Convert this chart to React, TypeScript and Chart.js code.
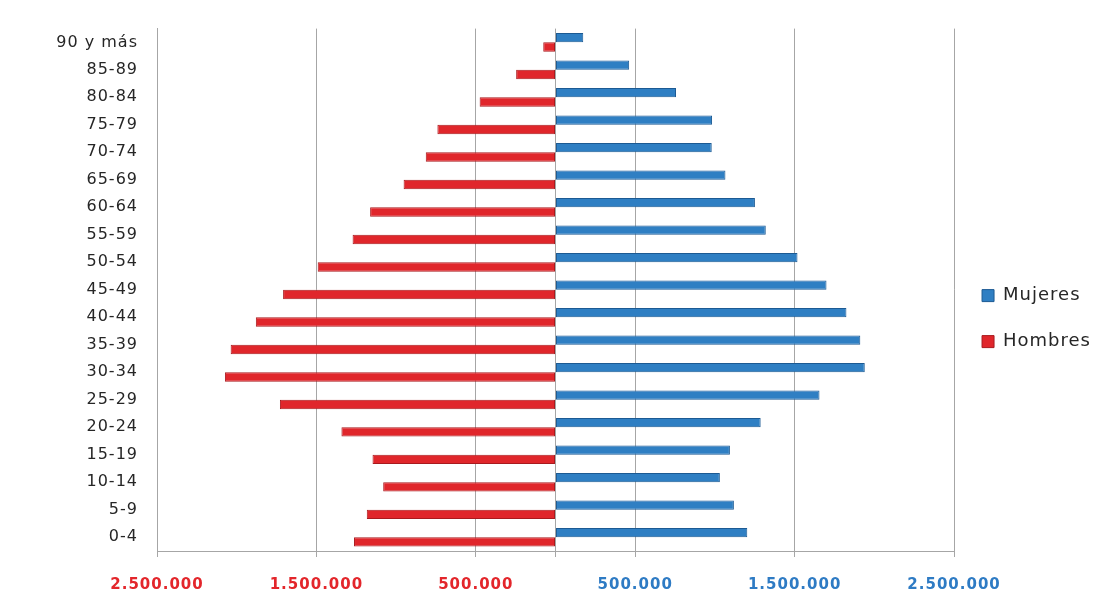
import React, { useEffect, useRef } from "react";
import { Chart, registerables } from "chart.js";

Chart.register(...registerables);

const CATEGORIES = [
  "90 y más", "85-89", "80-84", "75-79", "70-74", "65-69", "60-64",
  "55-59", "50-54", "45-49", "40-44", "35-39", "30-34", "25-29",
  "20-24", "15-19", "10-14", "5-9", "0-4",
];

const MUJERES = [
  174000, 462000, 756000, 982000, 980000, 1066000, 1251000,
  1319000, 1518000, 1700000, 1825000, 1912000, 1940000, 1656000,
  1287000, 1094000, 1031000, 1119000, 1203000,
];

const HOMBRES = [
  -77000, -247000, -476000, -741000, -814000, -953000, -1163000,
  -1273000, -1492000, -1709000, -1880000, -2038000, -2074000, -1729000,
  -1343000, -1148000, -1081000, -1184000, -1264000,
];

const X_TICKS = [-2500000, -1500000, -500000, 0, 500000, 1500000, 2500000];

const BLUE = "#2f7fc3";
const BLUE_DARK = "#1c5a93";
const RED = "#e0262b";
const RED_DARK = "#a81a1e";

function fmt(v: number): string {
  const s = Math.abs(Math.round(v)).toString();
  return s.replace(/\B(?=(\d{3})+(?!\d))/g, ".");
}

const spacingPlugin = {
  id: "letterSpacing",
  beforeUpdate(chart: any) {
    (chart.ctx as any).letterSpacing = "1px";
  },
  beforeDraw(chart: any) {
    (chart.ctx as any).letterSpacing = "1px";
  },
};

export default function App() {
  const ref = useRef<HTMLCanvasElement | null>(null);

  useEffect(() => {
    document.body.style.margin = "0";
    const canvas = ref.current;
    if (!canvas) return;
    Chart.defaults.font.family = "'DejaVu Sans', sans-serif";
    const chart = new Chart(canvas, {
      type: "bar",
      data: {
        labels: CATEGORIES,
        datasets: [
          {
            label: "Mujeres",
            data: MUJERES,
            backgroundColor: BLUE,
            borderColor: BLUE_DARK,
            borderWidth: 1,
            borderSkipped: false,
            categoryPercentage: 0.68,
            barPercentage: 1.0,
          },
          {
            label: "Hombres",
            data: HOMBRES,
            backgroundColor: RED,
            borderColor: RED_DARK,
            borderWidth: 1,
            borderSkipped: false,
            categoryPercentage: 0.68,
            barPercentage: 1.0,
          },
        ],
      },
      options: {
        animation: false,
        responsive: false,
        devicePixelRatio: 1,
        indexAxis: "y",
        layout: { padding: { top: 27, right: 3, left: 0, bottom: 0 } },
        plugins: {
          tooltip: { enabled: false },
          legend: {
            position: "right",
            title: { display: true, text: "", font: { size: 1 }, padding: { top: 7, bottom: 0 } },
            labels: {
              boxWidth: 12,
              boxHeight: 12,
              padding: 28,
              color: "#262626",
              font: { size: 18 },
            },
          },
        },
        scales: {
          x: {
            min: -2500000,
            max: 2500000,
            afterBuildTicks: (s: any) => {
              s.ticks = X_TICKS.map((v) => ({ value: v }));
            },
            afterFit: (s: any) => {
              s.height = 51;
              s.paddingLeft = 0;
              s.paddingRight = 0;
            },
            grid: {
              color: "#a6a6a6",
              lineWidth: 1,
              tickLength: 6,
              drawTicks: true,
            },
            border: { display: true, color: "#a6a6a6" },
            ticks: {
              padding: 19,
              autoSkip: false,
              maxRotation: 0,
              font: { size: 15, weight: "bold" },
              color: (c: any) => (c.tick && c.tick.value < 0 ? "#e3262b" : "#2e7bc4"),
              callback: (v: any) => (Number(v) === 0 ? "" : fmt(Number(v))),
            },
          },
          y: {
            afterFit: (s: any) => {
              s.width = 157;
            },
            grid: { display: false, drawTicks: false },
            border: { display: true, color: "#a6a6a6" },
            ticks: {
              padding: 19,
              color: "#262626",
              font: { size: 16 },
            },
          },
        },
      },
      plugins: [spacingPlugin],
    } as any);
    return () => chart.destroy();
  }, []);

  return (
    <div style={{ width: 1104, height: 602 }}>
      <canvas ref={ref} width={1104} height={602} style={{ width: 1104, height: 602, display: "block" }} />
    </div>
  );
}
